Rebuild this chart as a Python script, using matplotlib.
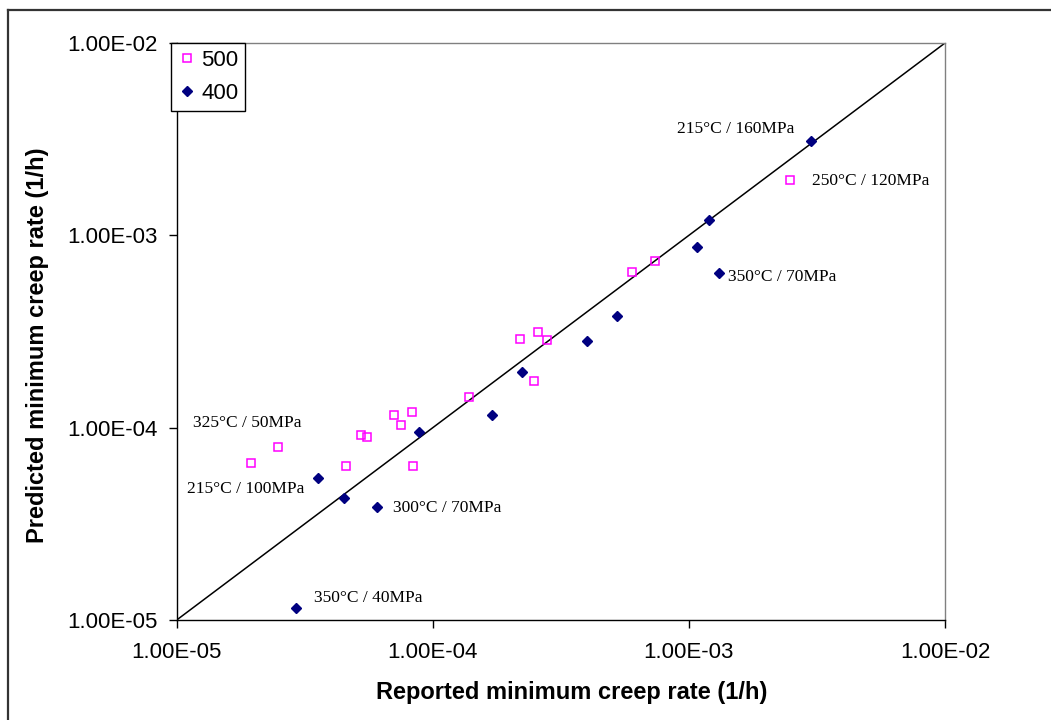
import matplotlib
matplotlib.use("Agg")
import matplotlib.pyplot as plt
from matplotlib.lines import Line2D
import numpy as np

# Series "500" (pink hollow squares)
x500 = [1.95e-5, 2.48e-5, 4.57e-5, 5.26e-5, 5.52e-5, 7.04e-5, 7.52e-5, 8.30e-5, 8.40e-5,
        1.38e-4, 2.19e-4, 2.48e-4, 2.58e-4, 2.79e-4, 5.97e-4, 7.34e-4, 2.49e-3]
y500 = [6.52e-5, 7.96e-5, 6.29e-5, 9.16e-5, 8.97e-5, 1.16e-4, 1.03e-4, 1.20e-4, 6.29e-5,
        1.45e-4, 2.90e-4, 1.74e-4, 3.15e-4, 2.84e-4, 6.42e-4, 7.35e-4, 1.93e-3]

# Series "400" (navy diamonds)
x400 = [2.91e-5, 3.56e-5, 4.49e-5, 6.06e-5, 8.82e-5, 1.71e-4, 2.23e-4, 4.01e-4, 5.23e-4,
        1.08e-3, 1.20e-3, 1.31e-3, 3.00e-3]
y400 = [1.16e-5, 5.45e-5, 4.31e-5, 3.88e-5, 9.52e-5, 1.17e-4, 1.94e-4, 2.82e-4, 3.82e-4,
        8.66e-4, 1.20e-3, 6.34e-4, 3.08e-3]

# 1:1 line
line_xy = [1e-5, 1e-2]

ticks = [1e-5, 1e-4, 1e-3, 1e-2]
tick_labels = ["1.00E-05", "1.00E-04", "1.00E-03", "1.00E-02"]

labels = ["215°C / 160MPa", "250°C / 120MPa", "350°C / 70MPa", "325°C / 50MPa",
          "215°C / 100MPa", "300°C / 70MPa", "350°C / 40MPa"]
label_pos = [(0.651, 0.851), (0.827, 0.761), (0.718, 0.594), (0.021, 0.341),
             (0.013, 0.227), (0.2815, 0.194), (0.179, 0.038)]

W, H = 1051, 720
fig = plt.figure(figsize=(W / 100, H / 100), dpi=100)
ax = fig.add_axes([176.7 / W, 1 - 620 / H, (945 - 176.7) / W, (620 - 43) / H])

ax.plot(line_xy, line_xy, color="black", lw=1.1, zorder=2)
ax.plot(x500, y500, ls="none", marker="s", ms=5.6, mfc="none", mec="#FF00FF", mew=1.1,
        label="500", zorder=3)
ax.plot(x400, y400, ls="none", marker="D", ms=5.0, mfc="#000080", mec="#000080",
        label="400", zorder=3)

ax.set_xscale("log")
ax.set_yscale("log")
ax.set_xlim(1e-5, 1e-2)
ax.set_ylim(1e-5, 1e-2)
ax.set_xticks(ticks)
ax.set_xticklabels(tick_labels)
ax.set_yticks(ticks)
ax.set_yticklabels(tick_labels)
ax.minorticks_off()
ax.tick_params(axis="both", which="major", direction="out", length=6, width=1,
               labelsize=16, color="black")
ax.tick_params(axis="x", pad=10)
ax.tick_params(axis="y", pad=8)
for lab in ax.get_xticklabels() + ax.get_yticklabels():
    lab.set_fontfamily("Liberation Sans")

ax.spines["left"].set_color("black")
ax.spines["bottom"].set_color("black")
ax.spines["top"].set_color("#808080")
ax.spines["right"].set_color("#808080")
for s in ax.spines.values():
    s.set_linewidth(1.0)

for txt, (fx, fy) in zip(labels, label_pos):
    ax.text(fx, fy, txt, transform=ax.transAxes, ha="left", va="center",
            fontsize=12.5, family="Liberation Serif", color="black")

fig.text(572 / W, 1 - 692 / H, "Reported minimum creep rate (1/h)", ha="center", va="center",
         fontsize=17, fontweight="bold", family="Liberation Sans")
fig.text(38 / W, 1 - 345 / H, "Predicted minimum creep rate (1/h)", ha="center", va="center",
         rotation=90, fontsize=17, fontweight="bold", family="Liberation Sans")

leg = ax.legend(loc="upper left", bbox_to_anchor=(171 / W, 1 - 43 / H),
                bbox_transform=fig.transFigure, borderaxespad=0, fancybox=False,
                framealpha=1, edgecolor="black", handlelength=0.8, handletextpad=0.25,
                borderpad=0.3, labelspacing=0.55, prop={"family": "Liberation Sans", "size": 16})
leg.get_frame().set_linewidth(1.0)
leg.set_zorder(10)

# outer frame (left and top edges, picture cropped on right/bottom)
fig.add_artist(Line2D([8 / W, 8 / W], [0, 1 - 10 / H], color="#333333", lw=1.6,
                      transform=fig.transFigure))
fig.add_artist(Line2D([8 / W, 1], [1 - 10 / H, 1 - 10 / H], color="#333333", lw=1.6,
                      transform=fig.transFigure))

fig.savefig("out.png", dpi=100)
